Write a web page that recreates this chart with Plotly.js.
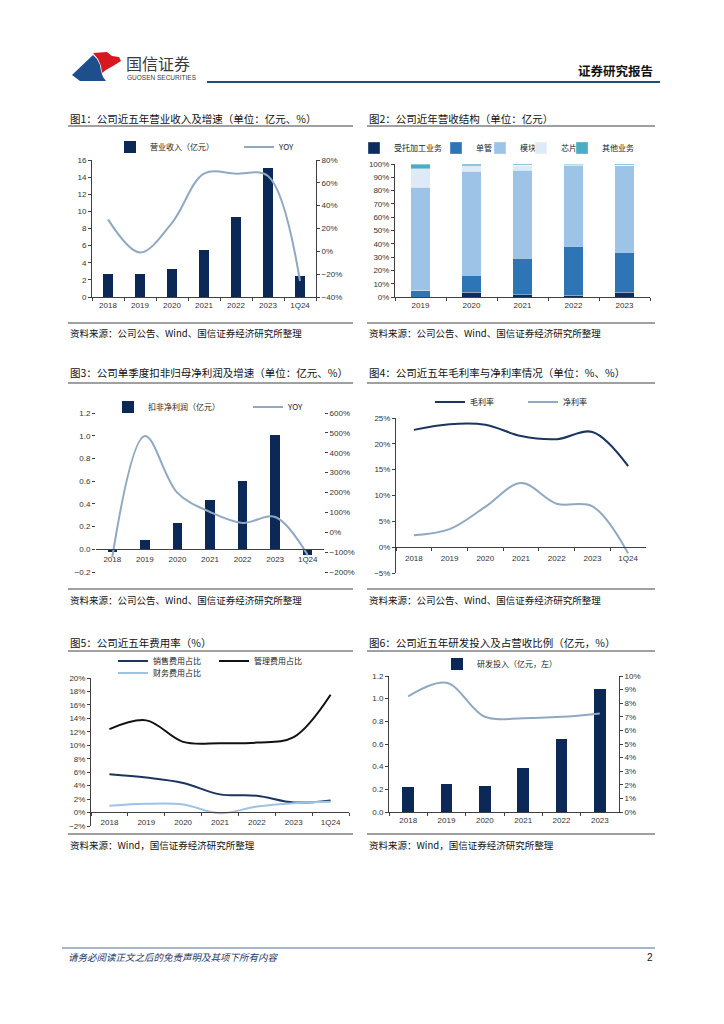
<!DOCTYPE html>
<html><head><meta charset="utf-8">
<script src="https://cdn.plot.ly/plotly-3.0.1.min.js"></script>
<style>html,body{margin:0;padding:0;background:#fff}#chart{width:724px;height:1024px}</style>
</head><body><div id="chart"></div>
<script>
// ---------- DATA ----------
const years7 = ['2018','2019','2020','2021','2022','2023','1Q24'];
const years5 = ['2019','2020','2021','2022','2023'];
const years6 = ['2018','2019','2020','2021','2022','2023'];

// Fig1 revenue (亿元) and YoY (%)
const revenue = [2.65, 2.65, 3.27, 5.49, 9.3, 15.1, 2.49];
const revenueYoY = [28, -1, 25, 68, 68, 66, -26];

// Fig2 revenue structure (%)
const segContract = [0, 3.5, 1.8, 1.5, 3.5];
const segDiscrete = [4.8, 12.8, 27.5, 36.6, 30.1];
const segModule = [77.9, 78.2, 65.9, 61.1, 65.1];
const segChip = [13.8, 4.2, 3.8, 0.4, 0.3];
const segOther = [3.5, 1.3, 1.0, 0.4, 1.0];
const segNames = ['受托加工业务','单管','模块','芯片','其他业务'];

// Fig3 quarterly non-GAAP net profit (亿元) and YoY (%)
const profitQ = [-0.02, 0.08, 0.23, 0.43, 0.60, 1.01, -0.05];
const profitYoY = [-125, 484, 198, 102, 47, 77, -115];

// Fig4 margins (%)
const grossMargin = [22.7, 23.8, 23.7, 21.5, 20.9, 22.3, 15.7];
const netMargin = [2.3, 3.5, 7.8, 12.4, 8.4, 7.9, -1.2];

// Fig5 expense ratios (%)
const sellRatio = [5.7, 5.2, 4.4, 2.7, 2.5, 1.5, 1.8];
const adminRatio = [12.4, 13.7, 10.5, 10.3, 10.4, 11.2, 17.5];
const finRatio = [1.0, 1.3, 1.2, -0.1, 0.9, 1.4, 1.6];

// Fig6 R&D (亿元) and share of revenue (%)
const rdSpend = [0.22, 0.245, 0.23, 0.385, 0.64, 1.085];
const rdRatio = [8.5, 9.5, 7.0, 6.9, 7.0, 7.25];

// ---------- STYLE ----------
const W = 724, H = 1024;
const fx = x => x / W;
const fy = y => 1 - y / H;
const CJK = '"Noto Sans CJK SC", "Liberation Sans", sans-serif';
const NUM = '"Liberation Sans", Arial, "Noto Sans CJK SC", sans-serif';
const NAVY = '#0b2856';
const GB = '#8ea9c1';
const AX = '#404040';
const tickFont = {family: NUM, size: 8, color: '#333'};

function leg(textX, cy) {
  return {x: fx(textX - 40), xanchor: 'left', y: fy(cy), yanchor: 'middle',
    orientation: 'h', bgcolor: 'rgba(0,0,0,0)', borderwidth: 0,
    font: {family: CJK, size: 8, color: '#222'}, itemclick: false, itemdoubleclick: false};
}
function xAx(l, r, extra) {
  return Object.assign({domain: [fx(l), fx(r)], type: 'category', showline: true, linecolor: AX, linewidth: 1,
    ticks: 'outside', tickson: 'boundaries', ticklen: 3, tickcolor: AX, tickfont: tickFont,
    showgrid: false, zeroline: false, fixedrange: true}, extra);
}
function yAx(b, t, extra) {
  return Object.assign({domain: [fy(b), fy(t)], showline: true, linecolor: AX, linewidth: 1,
    ticks: 'outside', ticklen: 3, tickcolor: AX, tickfont: tickFont,
    showgrid: false, zeroline: false, fixedrange: true}, extra);
}
const spl = (c, w) => ({color: c, width: w, shape: 'spline', smoothing: 1});

// ---------- TRACES ----------
const traces = [
  // Fig1
  {type: 'bar', x: years7, y: revenue, name: '营业收入（亿元）', xaxis: 'x', yaxis: 'y',
   marker: {color: NAVY}, width: 0.31, legend: 'legend'},
  {type: 'scatter', mode: 'lines', x: years7, y: revenueYoY, name: 'YOY', xaxis: 'x', yaxis: 'y2',
   line: spl(GB, 2), legend: 'legend2'},
];
// Fig2
const segVals = [segContract, segDiscrete, segModule, segChip, segOther];
const segColors = ['#0c2d5e', '#2e75b6', '#9dc3e6', '#deebf7', '#4bacc6'];
segVals.forEach((v, i) => traces.push({type: 'bar', x: years5, y: v, name: segNames[i],
  xaxis: 'x2', yaxis: 'y3', width: 0.39,
  marker: {color: segColors[i], line: {color: 'rgba(255,255,255,0.7)', width: 0.5}},
  legend: 'legend' + (3 + i)}));
traces.push(
  // Fig3
  {type: 'bar', x: years7, y: profitQ, name: '扣非净利润（亿元）', xaxis: 'x3', yaxis: 'y4',
   marker: {color: NAVY}, width: 0.29, legend: 'legend8'},
  {type: 'scatter', mode: 'lines', x: years7, y: profitYoY, name: 'YOY', xaxis: 'x3', yaxis: 'y5',
   line: spl(GB, 2), legend: 'legend9'},
  // Fig4
  {type: 'scatter', mode: 'lines', x: years7, y: grossMargin, name: '毛利率', xaxis: 'x4', yaxis: 'y6',
   line: spl('#1c3560', 2), legend: 'legend10'},
  {type: 'scatter', mode: 'lines', x: years7, y: netMargin, name: '净利率', xaxis: 'x4', yaxis: 'y6',
   line: spl(GB, 2), legend: 'legend11'},
  // Fig5
  {type: 'scatter', mode: 'lines', x: years7, y: sellRatio, name: '销售费用占比', xaxis: 'x5', yaxis: 'y7',
   line: spl('#1c3560', 2), legend: 'legend12'},
  {type: 'scatter', mode: 'lines', x: years7, y: adminRatio, name: '管理费用占比', xaxis: 'x5', yaxis: 'y7',
   line: spl('#111111', 2), legend: 'legend13'},
  {type: 'scatter', mode: 'lines', x: years7, y: finRatio, name: '财务费用占比', xaxis: 'x5', yaxis: 'y7',
   line: spl('#9dc3e6', 2), legend: 'legend14'},
  // Fig6
  {type: 'bar', x: years6, y: rdSpend, name: '研发投入（亿元，左）', xaxis: 'x6', yaxis: 'y8',
   marker: {color: NAVY}, width: 0.31, legend: 'legend15'},
  {type: 'scatter', mode: 'lines', x: years6, y: rdRatio, name: '研发占比', xaxis: 'x6', yaxis: 'y9',
   line: spl(GB, 2), showlegend: false}
);

// ---------- LAYOUT ----------
const anns = [];
const shapes = [];
function txt(x, y, s, font, extra) {
  anns.push(Object.assign({xref: 'paper', yref: 'paper', x: fx(x), y: fy(y), text: s, showarrow: false,
    xanchor: 'left', yanchor: 'middle', font: font}, extra));
}
function hline(x0, x1, y, color, w) {
  shapes.push({type: 'line', xref: 'paper', yref: 'paper', x0: fx(x0), x1: fx(x1), y0: fy(y), y1: fy(y),
    line: {color: color, width: w}});
}
function poly(pts, color) {
  const d = 'M' + pts.map(p => fx(p[0]).toFixed(5) + ',' + fy(p[1]).toFixed(5)).join(' L') + ' Z';
  shapes.push({type: 'path', xref: 'paper', yref: 'paper', path: d, fillcolor: color, line: {width: 0}});
}
// header
poly([[72,75],[93,55],[97,59],[100,65],[101,71],[103,77],[106,81],[80,81]], '#1d4f8c');
poly([[93,53],[107,52],[112,56],[119,57],[121,61],[113,66],[106,70],[102,73],[101,66],[98,59]], '#d7191f');
txt(124, 63, '国信证券', {family: CJK, size: 16, color: '#3a3a3a'});
txt(125, 77, 'GUOSEN SECURITIES', {family: NUM, size: 6.5, color: '#3a3a3a'});
txt(655, 70, '<b>证券研究报告</b>', {family: CJK, size: 12.5, color: '#111'}, {xanchor: 'right'});
hline(207, 660, 82, '#1f4e79', 2);
// footer
hline(62, 655, 948, '#4a6f9a', 1);
txt(66, 957, '<i>请务必阅读正文之后的免责声明及其项下所有内容</i>', {family: CJK, size: 9.5, color: '#1f3864'});
txt(655, 957, '2', {family: NUM, size: 10, color: '#111'}, {xanchor: 'right'});

const tFont = {family: CJK, size: 10.5, color: '#111'};
const sFont = {family: CJK, size: 9.5, color: '#111'};
const titles = [
  [68, 118, '图1：公司近五年营业收入及增速（单位：亿元、%）'],
  [367, 118, '图2：公司近年营收结构（单位：亿元）'],
  [68, 372, '图3：公司单季度扣非归母净利润及增速（单位：亿元、%）'],
  [367, 372, '图4：公司近五年毛利率与净利率情况（单位：%、%）'],
  [68, 642, '图5：公司近五年费用率（%）'],
  [367, 642, '图6：公司近五年研发投入及占营收比例（亿元，%）'],
];
titles.forEach(t => txt(t[0], t[1], t[2], tFont));
const srcA = '资料来源：公司公告、Wind、国信证券经济研究所整理';
const srcB = '资料来源：Wind，国信证券经济研究所整理';
txt(68, 333, srcA, sFont); txt(367, 333, srcA, sFont);
txt(68, 600, srcA, sFont); txt(367, 600, srcA, sFont);
txt(68, 845, srcB, sFont); txt(367, 845, srcB, sFont);
[126, 383, 651].forEach(y => { hline(68, 353, y, '#808080', 1.5); hline(367, 655, y, '#808080', 1.5); });
[323, 589, 834].forEach(y => { hline(68, 353, y, '#808080', 1.5); hline(367, 655, y, '#808080', 1.5); });

const layout = {
  width: W, height: H, margin: {l: 0, r: 0, t: 0, b: 0}, paper_bgcolor: '#fff', plot_bgcolor: 'rgba(0,0,0,0)',
  font: {family: NUM, size: 8, color: '#333'}, barmode: 'stack', showlegend: true,
  annotations: anns, shapes: shapes,
  // Fig1
  xaxis: xAx(92, 316, {anchor: 'y'}),
  yaxis: yAx(297, 160, {anchor: 'x', range: [0, 16], dtick: 2}),
  yaxis2: yAx(297, 160, {anchor: 'x', overlaying: 'y', side: 'right', range: [-40, 80], dtick: 20, ticksuffix: '%'}),
  // Fig2
  xaxis2: xAx(395, 650, {anchor: 'y3'}),
  yaxis3: yAx(297, 164, {anchor: 'x2', range: [0, 100], dtick: 10, ticksuffix: '%'}),
  // Fig3
  xaxis3: xAx(96, 324, {anchor: 'free', position: fy(549), ticks: '', range: [-0.5, 6.5], ticklabelstandoff: 2}),
  yaxis4: yAx(572, 413, {anchor: 'x3', range: [-0.2, 1.2], dtick: 0.2, tickformat: '.1f', showline: false}),
  yaxis5: yAx(572, 413, {anchor: 'x3', overlaying: 'y4', side: 'right', range: [-200, 600], dtick: 100, ticksuffix: '%', showline: false}),
  // Fig4
  xaxis4: xAx(396, 646, {anchor: 'free', position: fy(547), range: [-0.5, 6.5], ticklabelstandoff: 3}),
  yaxis6: yAx(573, 418, {anchor: 'x4', range: [-5, 25], dtick: 5, ticksuffix: '%'}),
  // Fig5
  xaxis5: xAx(91, 349, {anchor: 'free', position: fy(812), range: [-0.5, 6.5], ticklabelstandoff: 2}),
  yaxis7: yAx(826, 678, {anchor: 'x5', range: [-2, 20], dtick: 2, ticksuffix: '%'}),
  // Fig6
  xaxis6: xAx(389, 619, {anchor: 'y8'}),
  yaxis8: yAx(812, 676, {anchor: 'x6', range: [0, 1.2], dtick: 0.2, tickformat: '.1f'}),
  yaxis9: yAx(812, 676, {anchor: 'x6', overlaying: 'y8', side: 'right', range: [0, 10], dtick: 1, ticksuffix: '%'}),
  // legends
  legend: leg(150, 147), legend2: leg(279, 147),
  legend3: leg(394, 148), legend4: leg(476, 148), legend5: leg(520, 148), legend6: leg(561, 148), legend7: leg(602, 148),
  legend8: leg(148, 407), legend9: leg(288, 407),
  legend10: leg(470, 402), legend11: leg(563, 402),
  legend12: leg(153, 661), legend13: leg(254, 661), legend14: leg(153, 673),
  legend15: leg(477, 664),
};

Plotly.newPlot('chart', traces, layout, {displayModeBar: false, staticPlot: true});
</script>
</body></html>
